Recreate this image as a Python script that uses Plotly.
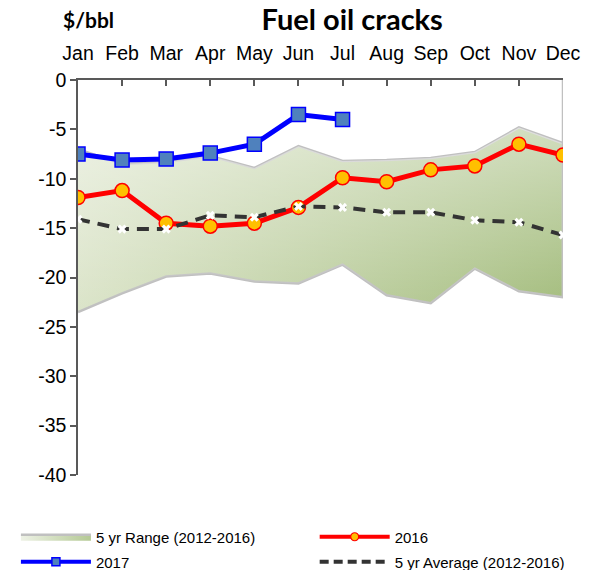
import plotly.graph_objects as go

months = ["Jan", "Feb", "Mar", "Apr", "May", "Jun", "Jul", "Aug", "Sep", "Oct", "Nov", "Dec"]
range_high = [-7.0, -8.5, -8.3, -7.7, -8.9, -6.7, -8.2, -8.1, -7.9, -7.3, -4.8, -6.4]
range_low = [-23.5, -21.6, -19.9, -19.6, -20.4, -20.6, -18.7, -21.8, -22.6, -19.1, -21.4, -22.0]
y2016 = [-11.9, -11.2, -14.5, -14.8, -14.5, -12.9, -9.9, -10.3, -9.1, -8.7, -6.5, -7.6]
y2017 = [-7.5, -8.1, -8.0, -7.4, -6.5, -3.5, -4.0]
avg5 = [-14.1, -15.1, -15.1, -13.7, -13.9, -12.8, -12.9, -13.4, -13.4, -14.2, -14.4, -15.7]
y_ticks = [0, -5, -10, -15, -20, -25, -30, -35, -40]
y_ticktext = [str(v) for v in y_ticks]

TXT = "Liberation Sans, Arial, sans-serif"
HEAD = "Lato, Carlito, Calibri, sans-serif"
band_x = months + months[::-1]
band_y = range_high + range_low[::-1]
GRAD = [[0, "#dbe4c9"], [1, "#a3bc7c"]]

fig = go.Figure()

# 5 yr range band (horizontal gradient)
fig.add_trace(go.Scatter(
    x=band_x, y=band_y, fill="toself", mode="lines",
    line=dict(color="#c0c0c0", width=2.5),
    fillgradient=dict(type="horizontal", colorscale=GRAD),
    showlegend=False, hoverinfo="skip"))
# vertical lightening overlay for diagonal look
fig.add_trace(go.Scatter(
    x=band_x, y=band_y, fill="toself", mode="none",
    fillgradient=dict(type="vertical",
                      colorscale=[[0, "rgba(255,255,255,0)"], [1, "rgba(255,255,255,0.5)"]]),
    showlegend=False, hoverinfo="skip"))
# right edge line
fig.add_trace(go.Scatter(
    x=[months[-1], months[-1]], y=[y_ticks[0], range_low[-1]], mode="lines",
    line=dict(color="#c0c0c0", width=2.5), showlegend=False, hoverinfo="skip"))

fig.add_trace(go.Scatter(
    x=months, y=y2016, mode="lines+markers", showlegend=False,
    line=dict(color="#ff0000", width=5),
    marker=dict(symbol="circle", size=14, color="#ffc000",
                line=dict(color="#ff0000", width=1.5))))

fig.add_trace(go.Scatter(
    x=months, y=avg5, mode="lines+markers", showlegend=False,
    line=dict(color="#333333", width=4, dash="12px,8px"),
    marker=dict(symbol="x", size=8, color="#ffffff", line=dict(width=0))))

fig.add_trace(go.Scatter(
    x=months[:len(y2017)], y=y2017, mode="lines+markers", showlegend=False,
    line=dict(color="#0000ff", width=5),
    marker=dict(symbol="square", size=14, color="#4f81bd",
                line=dict(color="#0000ff", width=1.5))))

# legend-only entries (no data) with smaller legend symbols
fig.add_trace(go.Scatter(
    x=[None], y=[None], fill="toself", mode="lines", name="5 yr Range (2012-2016)",
    line=dict(color="#c0c0c0", width=2.5),
    fillgradient=dict(type="horizontal", colorscale=[[0, "#eef2e6"], [1, "#b4c994"]]),
    legend="legend"))
fig.add_trace(go.Scatter(
    x=[None], y=[None], mode="lines+markers", name="2017", legend="legend2",
    line=dict(color="#0000ff", width=4),
    marker=dict(symbol="square", size=8, color="#4f81bd",
                line=dict(color="#0000ff", width=1.5))))
fig.add_trace(go.Scatter(
    x=[None], y=[None], mode="lines+markers", name="2016", legend="legend3",
    line=dict(color="#ff0000", width=4),
    marker=dict(symbol="circle", size=8, color="#ffc000",
                line=dict(color="#ff0000", width=1.2))))
fig.add_trace(go.Scatter(
    x=[None], y=[None], mode="lines", name="5 yr Average (2012-2016)", legend="legend4",
    line=dict(color="#333333", width=4, dash="9px,5px")))

leg_common = dict(font=dict(family=TXT, size=15), itemwidth=70,
                  bgcolor="rgba(0,0,0,0)", xanchor="left", yanchor="middle")
col1_x, col2_x = -0.128, 0.488
row1_y, row2_y = -0.157, -0.220

fig.update_layout(
    width=589, height=570,
    margin=dict(l=78, r=26, t=80, b=95, autoexpand=False),
    paper_bgcolor="white", plot_bgcolor="white",
    font=dict(family=TXT, color="#000000"),
    title=dict(text="<b>Fuel oil cracks</b>", x=0.598, xanchor="center",
               y=0.965, yanchor="middle",
               font=dict(family=HEAD, size=29, color="#000")),
    showlegend=True,
    legend=dict(x=col1_x, y=row1_y, **leg_common),
    legend2=dict(x=col1_x, y=row2_y, **leg_common),
    legend3=dict(x=col2_x, y=row1_y, **leg_common),
    legend4=dict(x=col2_x, y=row2_y, **leg_common),
    xaxis=dict(type="category", categoryorder="array", categoryarray=months,
               range=[0, len(months) - 1], side="top", automargin=False,
               showline=True, linecolor="#595959", linewidth=1.5,
               ticks="inside", ticklen=6, tickcolor="#595959", tickwidth=1.5,
               tickfont=dict(family=TXT, size=19.5), ticklabelstandoff=10,
               showgrid=False, zeroline=False),
    yaxis=dict(range=[y_ticks[-1], y_ticks[0]], tickvals=y_ticks, ticktext=y_ticktext,
               automargin=False,
               showline=True, linecolor="#595959", linewidth=1.5,
               ticks="outside", ticklen=6, tickcolor="#595959", tickwidth=1.5,
               tickfont=dict(family=TXT, size=19.5),
               showgrid=False, zeroline=False),
    annotations=[dict(text="<b>$/bbl</b>", xref="paper", yref="paper",
                      x=-0.035, y=1.152, xanchor="left", yanchor="middle",
                      showarrow=False,
                      font=dict(family=HEAD, size=21, color="#000"))],
)

fig.write_html("out.html", config={"displayModeBar": False},
               post_script="document.body.style.margin='0';")
